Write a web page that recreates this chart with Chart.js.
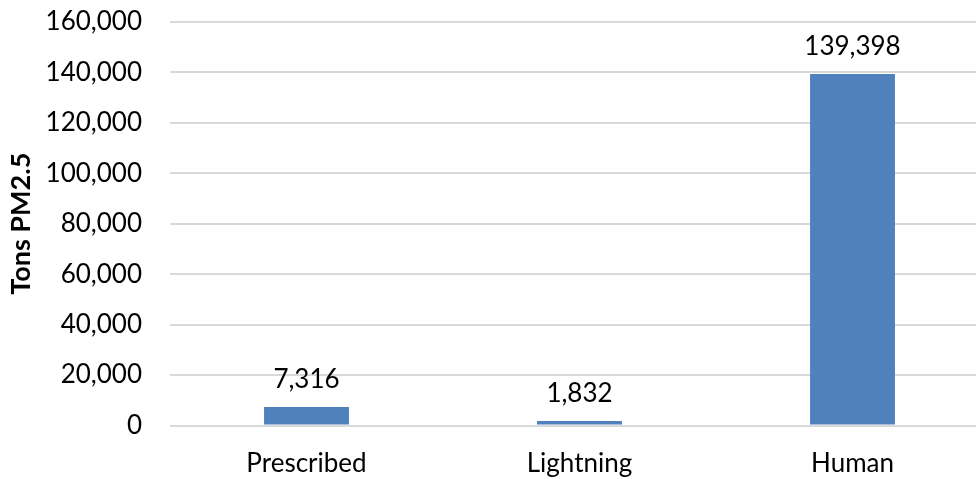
<!DOCTYPE html>
<html>
<head>
<meta charset="utf-8">
<script src="https://cdn.jsdelivr.net/npm/chart.js@4/dist/chart.umd.min.js"></script>
<style>
  html, body { margin: 0; padding: 0; background: #fff; overflow: hidden; }
  #wrap { width: 990px; height: 479px; position: relative; }
</style>
</head>
<body>
<div id="wrap"><canvas id="c"></canvas></div>
<script>
// Wildfire emissions by ignition source
const categories = ['Prescribed', 'Lightning', 'Human'];
const tonsPM25 = [7316, 1832, 139398];
const yTicks = [0, 20000, 40000, 60000, 80000, 100000, 120000, 140000, 160000];

const FONT = 'Lato, "Open Sans", sans-serif';
const fmt = v => v.toLocaleString('en-US');

// Value labels above each bar
const barValueLabels = {
  id: 'barValueLabels',
  afterDatasetsDraw(chart) {
    const ctx = chart.ctx;
    const meta = chart.getDatasetMeta(0);
    ctx.save();
    ctx.font = '26px ' + FONT;
    ctx.fillStyle = '#000';
    ctx.textAlign = 'center';
    ctx.textBaseline = 'alphabetic';
    meta.data.forEach((bar, i) => {
      ctx.fillText(fmt(tonsPM25[i]), bar.x, bar.y - 19);
    });
    ctx.restore();
  }
};

new Chart(document.getElementById('c'), {
  type: 'bar',
  data: {
    labels: categories,
    datasets: [{
      data: tonsPM25,
      backgroundColor: '#4F81BD',
      borderWidth: 0,
      barPercentage: 0.311,
      categoryPercentage: 1
    }]
  },
  options: {
    responsive: true,
    maintainAspectRatio: false,
    animation: false,
    layout: { padding: { top: 22, right: 1, left: 0, bottom: 0 } },
    plugins: { legend: { display: false }, tooltip: { enabled: false } },
    scales: {
      x: {
        grid: { display: false, drawTicks: false },
        border: { display: false },
        ticks: { color: '#000', font: { family: FONT, size: 26 }, padding: 23 },
        afterFit(scale) { scale.height = 53.5; scale.paddingLeft = 0; scale.paddingRight = 0; }
      },
      y: {
        min: 0,
        max: 160000,
        afterBuildTicks(scale) { scale.ticks = yTicks.map(v => ({ value: v })); },
        grid: { color: '#D9D9D9', lineWidth: 2, drawTicks: false },
        border: { display: false },
        ticks: {
          color: '#000',
          font: { family: FONT, size: 26 },
          padding: 28,
          callback: v => fmt(v)
        },
        title: {
          display: true,
          text: 'Tons PM2.5',
          color: '#000',
          font: { family: FONT, size: 27, weight: 'bold' },
          padding: { top: 5, bottom: 0 }
        },
        afterFit(scale) { scale.width = 170; scale.paddingTop = 0; scale.paddingBottom = 0; }
      }
    }
  },
  plugins: [barValueLabels]
});
</script>
</body>
</html>
